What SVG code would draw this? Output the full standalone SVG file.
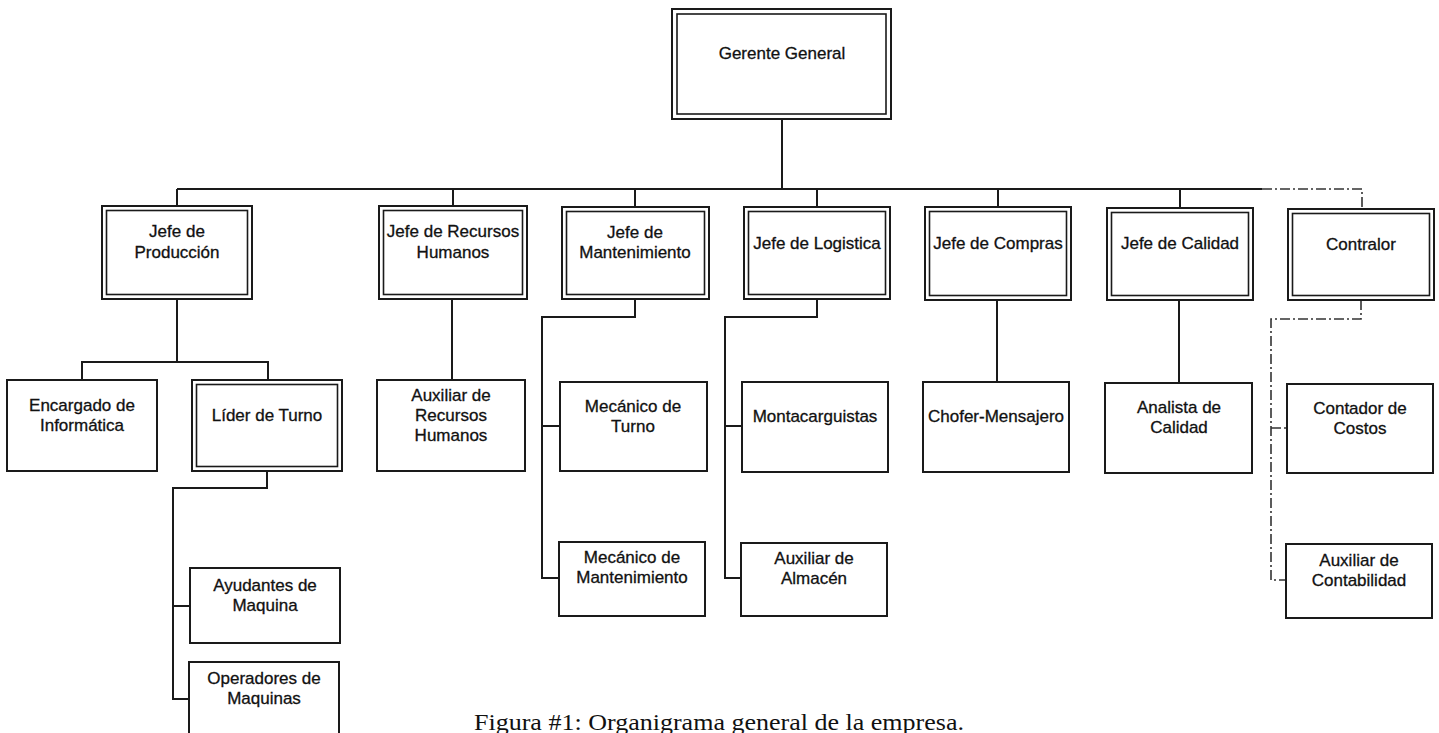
<svg xmlns="http://www.w3.org/2000/svg" width="1439" height="733" viewBox="0 0 1439 733">
<style>
.o{fill:#fff;stroke:#1a1a1a;stroke-width:2}
.i{fill:none;stroke:#1a1a1a;stroke-width:1.6}
.t{font-family:"Liberation Sans",Arial,sans-serif;font-size:17px;fill:#111;stroke:#111;stroke-width:0.3;text-anchor:middle}
.c{fill:none;stroke:#1a1a1a;stroke-width:2}
.d{fill:none;stroke:#333;stroke-width:1.6;stroke-dasharray:10 3 2 3}
.cap{font-family:"Liberation Serif","Times New Roman",serif;font-size:24px;fill:#111}
</style>
<rect width="1439" height="733" fill="#fff"/>
<g id="connectors">
<path class="c" d="M782 119V189M177 189H1262M177 189V206M453 189V206M635 189V207M817 189V207M998 189V207M1180 189V208"/>
<path class="d" d="M1262 189H1362V209"/>
<path class="c" d="M177 299V362M82 380V362H268V380"/>
<path class="c" d="M267 471V488H173V699H189M173 606H190"/>
<path class="c" d="M452 299V380"/>
<path class="c" d="M635 299V317H542V578H559M542 426H560"/>
<path class="c" d="M817 299V317H725V578H741M725 426H742"/>
<path class="c" d="M997 300V382"/>
<path class="c" d="M1179 300V383"/>
<path class="d" d="M1361 300V319H1271V580H1286M1271 428H1287"/>
</g>
<g id="gerente"><rect class="o" x="672" y="9" width="219" height="110"/><rect class="i" x="677" y="14" width="209" height="100"/><text class="t" x="782" y="59">Gerente General</text></g>
<g id="jefe-produccion"><rect class="o" x="102" y="206" width="150" height="93"/><rect class="i" x="106.5" y="210.5" width="141" height="84"/><text class="t" x="177" y="237">Jefe de</text><text class="t" x="177" y="258">Producción</text></g>
<g id="jefe-rh"><rect class="o" x="379" y="206" width="148" height="93"/><rect class="i" x="383.5" y="210.5" width="139" height="84"/><text class="t" x="453" y="237">Jefe de Recursos</text><text class="t" x="453" y="258">Humanos</text></g>
<g id="jefe-mant"><rect class="o" x="562" y="207" width="147" height="92"/><rect class="i" x="566.5" y="211.5" width="138" height="83"/><text class="t" x="635" y="238">Jefe de</text><text class="t" x="635" y="258">Mantenimiento</text></g>
<g id="jefe-log"><rect class="o" x="744" y="207" width="146" height="92"/><rect class="i" x="748.5" y="211.5" width="137" height="83"/><text class="t" x="817" y="249">Jefe de Logistica</text></g>
<g id="jefe-compras"><rect class="o" x="925" y="207" width="146" height="93"/><rect class="i" x="929.5" y="211.5" width="137" height="84"/><text class="t" x="998" y="249">Jefe de Compras</text></g>
<g id="jefe-calidad"><rect class="o" x="1107" y="208" width="146" height="92"/><rect class="i" x="1111.5" y="212.5" width="137" height="83"/><text class="t" x="1180" y="249">Jefe de Calidad</text></g>
<g id="contralor"><rect class="o" x="1288" y="209" width="146" height="91"/><rect class="i" x="1292.5" y="213.5" width="137" height="82"/><text class="t" x="1361" y="250">Contralor</text></g>
<g id="encargado"><rect class="o" x="7" y="380" width="150" height="91"/><text class="t" x="82" y="411">Encargado de</text><text class="t" x="82" y="431">Informática</text></g>
<g id="lider"><rect class="o" x="192" y="380" width="150" height="91"/><rect class="i" x="196.5" y="384.5" width="141" height="82"/><text class="t" x="267" y="421">Líder de Turno</text></g>
<g id="aux-rh"><rect class="o" x="377" y="380" width="148" height="91"/><text class="t" x="451" y="401">Auxiliar de</text><text class="t" x="451" y="421">Recursos</text><text class="t" x="451" y="441">Humanos</text></g>
<g id="mec-turno"><rect class="o" x="560" y="382" width="147" height="89"/><text class="t" x="633" y="412">Mecánico de</text><text class="t" x="633" y="432">Turno</text></g>
<g id="montacarguistas"><rect class="o" x="742" y="382" width="146" height="90"/><text class="t" x="815" y="422">Montacarguistas</text></g>
<g id="chofer"><rect class="o" x="923" y="382" width="146" height="90"/><text class="t" x="996" y="422">Chofer-Mensajero</text></g>
<g id="analista"><rect class="o" x="1105" y="383" width="147" height="90"/><text class="t" x="1179" y="413">Analista de</text><text class="t" x="1179" y="433">Calidad</text></g>
<g id="contador"><rect class="o" x="1287" y="384" width="146" height="89"/><text class="t" x="1360" y="414">Contador de</text><text class="t" x="1360" y="434">Costos</text></g>
<g id="ayudantes"><rect class="o" x="190" y="568" width="150" height="75"/><text class="t" x="265" y="591">Ayudantes de</text><text class="t" x="265" y="611">Maquina</text></g>
<g id="operadores"><rect class="o" x="189" y="662" width="150" height="80"/><text class="t" x="264" y="684">Operadores de</text><text class="t" x="264" y="704">Maquinas</text></g>
<g id="mec-mant"><rect class="o" x="559" y="542" width="146" height="74"/><text class="t" x="632" y="563">Mecánico de</text><text class="t" x="632" y="583">Mantenimiento</text></g>
<g id="aux-almacen"><rect class="o" x="741" y="543" width="146" height="73"/><text class="t" x="814" y="564">Auxiliar de</text><text class="t" x="814" y="584">Almacén</text></g>
<g id="aux-contab"><rect class="o" x="1286" y="544" width="146" height="74"/><text class="t" x="1359" y="566">Auxiliar de</text><text class="t" x="1359" y="586">Contabilidad</text></g>
<text class="cap" x="474" y="730" textLength="490" lengthAdjust="spacingAndGlyphs">Figura #1: Organigrama general de la empresa.</text>
</svg>
